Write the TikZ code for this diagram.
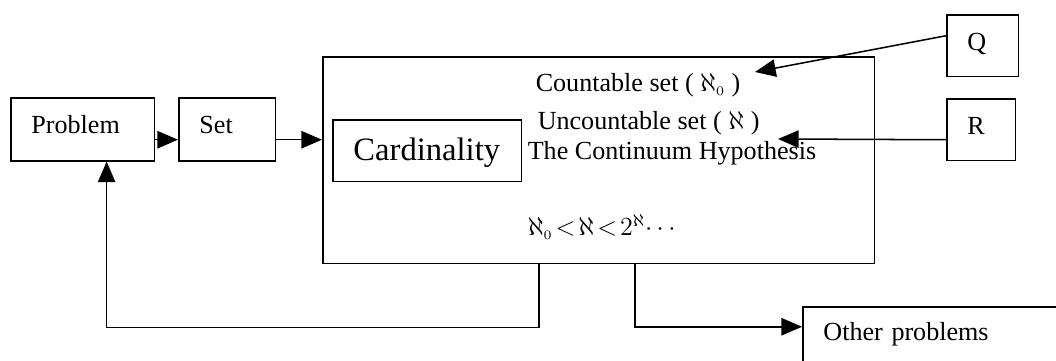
\documentclass[tikz,border=0pt]{standalone}
\usepackage{fontspec}
\setmainfont{Liberation Serif}
\usetikzlibrary{arrows.meta,positioning}

\begin{document}
\begin{tikzpicture}[
  x=0.46pt, y=-0.46pt,
  font=\fontsize{12}{14}\selectfont,
  line width=0.7pt,
  wbox/.style={draw, anchor=north west, align=left, inner xsep=9.5pt, inner ysep=0pt,
    text height=16.5pt, text depth=12.5pt},
  arr/.style={-{Triangle[length=9.5pt, width=8pt]}},
  txt/.style={anchor=base west, inner sep=0pt}
]
\path[use as bounding box, clip] (0,0) rectangle (1056,361);

% left chain
\node[wbox, text width=47.2pt] (prob) at (10,97) {Problem};
\node[wbox, text width=25.6pt] (set) at (178,97) {Set};

% main box and its contents
\node[draw, anchor=north west, inner sep=0pt, minimum width=253.9pt, minimum height=95.2pt] (main) at (322,56) {};
\node[wbox, text width=67.9pt, font=\fontsize{15}{18}\selectfont,
  text height=18.6pt, text depth=9.9pt] (card) at (332,119) {Cardinality};
\node[txt] (cnt) at (535,92) {Countable set ( $\aleph_{\scriptscriptstyle 0}$ )};
\node[txt] (unc) at (537,130) {Uncountable set ( $\aleph$ )};
\node[txt] (hyp) at (527,160) {The Continuum Hypothesis};
\node[txt] (chain) at (527,236) {$\thickmuskip=2mu \aleph_{\scriptscriptstyle 0} < \aleph < 2^{\aleph}\!\cdots$};

% right side
\node[wbox, text width=14.1pt, text depth=12pt] (q) at (946,14) {Q};
\node[wbox, text width=12.7pt, text depth=12pt] (r) at (946,98) {R};
\node[wbox, text width=104pt, text height=15.6pt, text depth=18.4pt] (other) at (802,306) {Other problems};
\coordinate (qtip) at (755,72);
\coordinate (rtip) at (778,139);

% connectors
\draw[arr] ([yshift=-4.8pt]prob.east) -- ([yshift=-4.8pt]set.west);
\draw[arr] ([yshift=-4.8pt]set.east) -- ([yshift=-4.8pt]set.east -| main.west);
\draw[arr] ([yshift=4.6pt]q.west) -- (qtip);
\draw[arr] ([yshift=-4.6pt]r.west) -- (rtip);
\draw[arr] ([xshift=-27.6pt]main.south) -- ++(0,63) -| ([xshift=11pt]prob.south);
\draw[arr] ([xshift=16.6pt]main.south) |- ([yshift=7.8pt]other.west);
\end{tikzpicture}
\end{document}
